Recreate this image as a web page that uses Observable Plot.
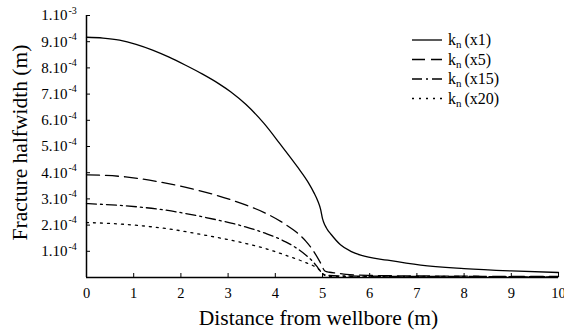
<!DOCTYPE html>
<html>
<head>
<meta charset="utf-8">
<script src="https://cdn.jsdelivr.net/npm/d3@7"></script>
<script src="https://cdn.jsdelivr.net/npm/@observablehq/plot@0.6"></script>
<style>
  html, body { margin: 0; padding: 0; background: #fff; }
  #chart { position: relative; width: 564px; height: 331px; }
  #legend { position: absolute; left: 0; top: 0; pointer-events: none; }
</style>
</head>
<body>
<div id="chart"></div>
<script>
// ---- data (y in units of 1e-4 m) ----
const x1 = [0, 0.35, 0.7, 1.05, 1.4, 1.75, 2.1, 2.45, 2.8, 3.06, 3.38, 3.76, 4.1, 4.47, 4.7, 4.82, 4.9, 4.96, 5.0, 5.05, 5.1, 5.18, 5.38, 5.6, 5.81, 6.38, 7.08, 8, 9, 10];
const y1 = [9.17, 9.14, 9.06, 8.9, 8.68, 8.41, 8.10, 7.77, 7.40, 7.08, 6.6, 5.88, 5.1, 4.22, 3.62, 3.23, 2.92, 2.6, 2.25, 2.0, 1.84, 1.65, 1.25, 1.0, 0.85, 0.66, 0.47, 0.34, 0.25, 0.19];

const x5 = [0, 0.83, 1.68, 2.53, 3.37, 3.8, 4.22, 4.5, 4.65, 4.82, 4.96, 5.05, 5.15, 5.3, 5.5, 6, 7, 8, 9, 10];
const y5 = [3.92, 3.84, 3.6, 3.25, 2.77, 2.45, 2.02, 1.65, 1.38, 0.98, 0.55, 0.25, 0.2, 0.17, 0.12, 0.08, 0.06, 0.05, 0.04, 0.04];

const x15 = [0, 0.8, 1.68, 2.5, 3.37, 3.8, 4.22, 4.45, 4.65, 4.8, 4.9, 5.0, 5.1, 5.5, 6, 7, 8, 9, 10];
const y15 = [2.82, 2.74, 2.57, 2.3, 1.93, 1.68, 1.36, 1.12, 0.85, 0.6, 0.38, 0.15, 0.08, 0.06, 0.05, 0.04, 0.04, 0.03, 0.03];

const x20 = [0, 0.8, 1.68, 2.5, 3.37, 3.8, 4.22, 4.6, 4.93, 5.05, 5.2, 6, 8, 10];
const y20 = [2.10, 2.03, 1.87, 1.62, 1.30, 1.1, 0.85, 0.6, 0.3, 0.08, 0.04, 0.03, 0.02, 0.02];

const xTicks = [0, 1, 2, 3, 4, 5, 6, 7, 8, 9, 10];
const yTicks = [0, 1, 2, 3, 4, 5, 6, 7, 8, 9, 10];
const yLabelVals = [1, 2, 3, 4, 5, 6, 7, 8, 9, 10];
const yLabelMant = ["1.10", "2.10", "3.10", "4.10", "5.10", "6.10", "7.10", "8.10", "9.10", "1.10"];
const yLabelExp  = ["-4", "-4", "-4", "-4", "-4", "-4", "-4", "-4", "-4", "-3"];

const seriesNames = ["(x1)", "(x5)", "(x15)", "(x20)"];
const seriesDash = [null, "13,6", "10,4,2,4", "2,5"];

const xTitle = "Distance from wellbore (m)";
const yTitle = "Fracture halfwidth (m)";

// ---- build ----
const series = [[x1, y1], [x5, y5], [x15, y15], [x20, y20]];
const font = "'Liberation Serif', 'Times New Roman', serif";
const H = 331, W = 564, mT = 15, mB = 54, mL = 86, mR = 6;
const frameH = H - mT - mB, frameW = W - mL - mR;

const lineMarks = series.map(([xs, ys], i) =>
  Plot.line(xs.map((x, j) => ({x, y: ys[j]})), {
    x: "x", y: "y", curve: "monotone-x", stroke: "#000", strokeWidth: 1.3,
    strokeDasharray: seriesDash[i] || undefined
  })
);

const plot = Plot.plot({
  width: W, height: H,
  marginTop: mT, marginBottom: mB, marginLeft: mL, marginRight: mR,
  style: {fontFamily: font, background: "#fff", color: "#000"},
  x: {domain: [0, 10], axis: null},
  y: {domain: [0, 10], axis: null},
  marks: [
    // ticks inside
    Plot.ruleX(xTicks, {x: d => d, insetTop: frameH - 4, stroke: "#000", strokeWidth: 1}),
    Plot.ruleY(yTicks, {y: d => d, insetRight: frameW - 4, stroke: "#000", strokeWidth: 1}),
    ...lineMarks,
    // axis lines
    Plot.ruleX([0], {stroke: "#000", strokeWidth: 1.5}),
    Plot.ruleY([0], {stroke: "#000", strokeWidth: 1.5}),
    // x tick labels
    Plot.text(xTicks, {x: d => d, frameAnchor: "bottom", dy: 16, text: d => String(d), fontSize: 14.5, lineAnchor: "middle", textAnchor: "middle"}),
    // y tick labels
    Plot.text(yLabelVals, {y: d => d, frameAnchor: "left", dx: -19, text: (d, i) => yLabelMant[i], textAnchor: "end", fontSize: 15, lineAnchor: "middle"}),
    Plot.text(yLabelVals, {y: d => d, frameAnchor: "left", dx: -18, dy: -5, text: (d, i) => yLabelExp[i], textAnchor: "start", fontSize: 10, lineAnchor: "middle"}),
    // titles
    Plot.text([xTitle], {frameAnchor: "bottom", dx: -4, dy: 41, text: d => d, fontSize: 21.5, lineAnchor: "middle", textAnchor: "middle"}),
    Plot.text([yTitle], {frameAnchor: "left", dx: -66, dy: -4, rotate: -90, text: d => d, fontSize: 21.5, lineAnchor: "middle", textAnchor: "middle"})
  ]
});

const chart = document.getElementById("chart");
chart.appendChild(plot);

// ---- legend overlay ----
const leg = d3.select(chart).append("svg").attr("id", "legend")
  .attr("width", W).attr("height", H)
  .style("font-family", font);
const rowY = [40, 59.5, 79, 98.5];
seriesNames.forEach((name, i) => {
  const y = rowY[i];
  leg.append("line").attr("x1", 412).attr("x2", 442).attr("y1", y).attr("y2", y)
    .attr("stroke", "#000").attr("stroke-width", 1.3)
    .attr("stroke-dasharray", seriesDash[i]);
  const t = leg.append("text").attr("x", 448).attr("y", y + 5).attr("font-size", 16).attr("fill", "#000");
  t.append("tspan").text("k");
  t.append("tspan").attr("font-size", 11).attr("dy", 3).text("n");
  t.append("tspan").attr("dy", -3).attr("dx", 3).text(name);
});
</script>
</body>
</html>
